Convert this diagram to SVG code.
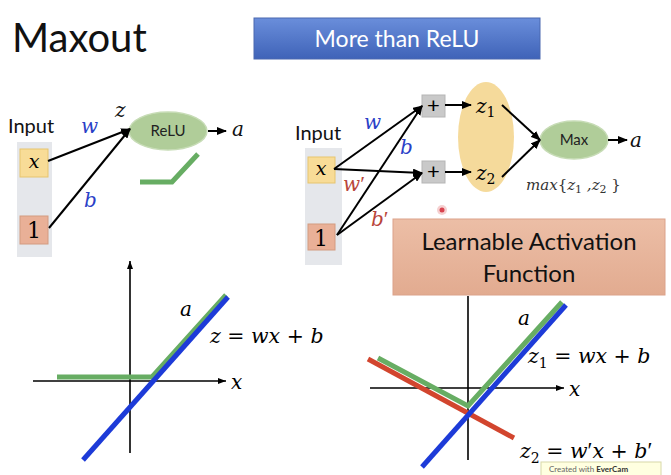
<svg xmlns="http://www.w3.org/2000/svg" width="671" height="475" viewBox="0 0 671 475">
<defs>
<linearGradient id="gBlue" x1="0" y1="0" x2="0" y2="1"><stop offset="0" stop-color="#6a8edb"/><stop offset="1" stop-color="#3f63b8"/></linearGradient>
<linearGradient id="gSalmon" x1="0" y1="0" x2="0" y2="1"><stop offset="0" stop-color="#ecbea6"/><stop offset="1" stop-color="#e2ab90"/></linearGradient>
<marker id="ah" markerUnits="userSpaceOnUse" markerWidth="10" markerHeight="8" refX="9" refY="4" orient="auto"><path d="M0,0 L10,4 L0,8 Z" fill="#000"/></marker>
<marker id="axh" markerUnits="userSpaceOnUse" markerWidth="8" markerHeight="6" refX="8" refY="3" orient="auto"><path d="M0,0 L8,3 L0,6 Z" fill="#000"/></marker>
</defs>
<style>
.sans{font-family:Lato,"Open Sans","Liberation Sans",sans-serif;}
.m{font-family:"DejaVu Serif","Liberation Serif",serif;font-style:italic;}
.mr{font-family:"DejaVu Serif","Liberation Serif",serif;font-style:normal;}
.pr{font-family:"Liberation Serif",serif;font-style:normal;font-size:1.1em;}
.conn{stroke:#000;stroke-width:2;fill:none;marker-end:url(#ah);}
.axis{stroke:#000;stroke-width:1.6;fill:none;}
.col{fill:#e5e7eb;}
.bx{fill:#f8dc97;stroke:#e7c56f;stroke-width:1;}
.b1{fill:#e9b097;stroke:#d39b80;stroke-width:1;}
.plus{fill:#c9c9c9;stroke:#b5b5b5;stroke-width:1;}
.gell{fill:#b0cd99;stroke:#c7dcb6;stroke-width:1.5;}
.green{stroke:#67ad63;stroke-width:5;fill:none;}
.blue{stroke:#1d3bd8;stroke-width:5;fill:none;}
.red{stroke:#d2452e;stroke-width:5;fill:none;}
</style>
<rect width="671" height="475" fill="#fff"/>

<g id="title"><text class="sans" x="12" y="52" font-size="40" fill="#111">Maxout</text></g>
<g id="more-than-relu">
<rect x="254" y="18" width="286" height="41" fill="url(#gBlue)" stroke="#4a68b0" stroke-width="1"/>
<text class="sans" x="397" y="47" font-size="23" fill="#fff" text-anchor="middle">More than ReLU</text>
</g>

<!-- Left network -->
<g id="left-input">
<text class="sans" x="8" y="133" font-size="20" fill="#111">Input</text>
<rect class="col" x="17" y="142" width="35" height="115"/>
<rect class="bx" x="20" y="149" width="28" height="28"/>
<text class="m" x="34" y="168" font-size="19" text-anchor="middle">x</text>
<rect class="b1" x="20" y="216" width="28" height="28"/>
<text class="mr" x="34" y="238" font-size="22" text-anchor="middle">1</text>
</g>
<g id="left-relu">
<ellipse class="gell" cx="168" cy="131" rx="39" ry="19"/>
<text class="sans" x="168" y="136" font-size="15" text-anchor="middle" fill="#222">ReLU</text>
</g>
<g id="left-relu-shape"><polyline class="green" points="140,182 172,182 198,154"/></g>
<g id="left-labels">
<text class="m" x="81" y="133" font-size="20" fill="#2a3fc7">w</text>
<text class="m" x="84" y="207" font-size="20" fill="#2a3fc7">b</text>
<text class="m" x="115" y="117" font-size="20" fill="#111">z</text>
<text class="m" x="232" y="136" font-size="20" fill="#111">a</text>
</g>

<!-- Right network -->
<g id="right-input">
<text class="sans" x="295" y="140" font-size="20" fill="#111">Input</text>
<rect class="col" x="305" y="148" width="37" height="117"/>
<rect class="bx" x="308" y="157" width="27" height="26"/>
<text class="m" x="321" y="175" font-size="19" text-anchor="middle">x</text>
<rect class="b1" x="308" y="224" width="27" height="26"/>
<text class="mr" x="321" y="246" font-size="22" text-anchor="middle">1</text>
</g>
<g id="plus1"><rect class="plus" x="422" y="95" width="23" height="22"/><text class="sans" x="433.5" y="113" font-size="22" text-anchor="middle">+</text></g>
<g id="plus2"><rect class="plus" x="422" y="161" width="23" height="22"/><text class="sans" x="433.5" y="179" font-size="22" text-anchor="middle">+</text></g>
<g id="z-group">
<ellipse cx="486" cy="137" rx="28" ry="55" fill="#f3d38a" fill-opacity="0.85"/>
<text class="m" x="476" y="113" font-size="20">z<tspan class="mr" font-size="14" dy="4">1</tspan></text>
<text class="m" x="476" y="180" font-size="20">z<tspan class="mr" font-size="14" dy="4">2</tspan></text>
</g>
<g id="max">
<ellipse class="gell" cx="574" cy="140" rx="34" ry="19"/>
<text class="sans" x="574" y="145" font-size="15" text-anchor="middle" fill="#222">Max</text>
</g>
<g id="right-labels">
<text class="m" x="364" y="129" font-size="20" fill="#2a3fc7">w</text>
<text class="m" x="400" y="154" font-size="20" fill="#2a3fc7">b</text>
<text class="m" x="343" y="191" font-size="20" fill="#b9453a">w<tspan class="pr">′</tspan></text>
<text class="m" x="371" y="226" font-size="20" fill="#b9453a">b<tspan class="pr">′</tspan></text>
<text class="m" x="630" y="147" font-size="20" fill="#111">a</text>
<text class="m" x="526" y="190" font-size="15" fill="#333">max<tspan class="mr">{</tspan>z<tspan class="mr" font-size="11" dy="3">1</tspan><tspan dy="-3"> ,</tspan>z<tspan class="mr" font-size="11" dy="3">2</tspan><tspan class="mr" dy="-3"> }</tspan></text>
</g>
<g id="pointer"><circle cx="442" cy="210" r="5" fill="#f5d0d0"/><circle cx="442" cy="210" r="2.5" fill="#d9434e"/></g>

<g id="connectors">
<line class="conn" x1="48" y1="161" x2="130" y2="129"/>
<line class="conn" x1="49" y1="228" x2="130" y2="129"/>
<line class="conn" x1="208" y1="131" x2="226" y2="131"/>
<line class="conn" x1="334" y1="169" x2="422" y2="106"/>
<line class="conn" x1="334" y1="169" x2="422" y2="173"/>
<line class="conn" x1="337" y1="235" x2="422" y2="106"/>
<line class="conn" x1="337" y1="235" x2="422" y2="173"/>
<line class="conn" x1="445" y1="105" x2="471" y2="105"/>
<line class="conn" x1="445" y1="172" x2="471" y2="172"/>
<line class="conn" x1="502" y1="105" x2="540" y2="140"/>
<line class="conn" x1="502" y1="177" x2="540" y2="140"/>
<line class="conn" x1="608" y1="140" x2="627" y2="140"/>
</g>

<g id="learnable">
<rect x="393" y="219" width="272" height="76" fill="url(#gSalmon)" stroke="#dba28a" stroke-width="1"/>
<text class="sans" x="529" y="250" font-size="24" text-anchor="middle" fill="#111">Learnable Activation</text>
<text class="sans" x="529" y="282" font-size="24" text-anchor="middle" fill="#111">Function</text>
</g>

<!-- Bottom-left graph -->
<g id="graph-left">
<line class="axis" x1="130" y1="453" x2="130" y2="261" marker-end="url(#axh)"/>
<line class="axis" x1="33" y1="381" x2="226" y2="381" marker-end="url(#axh)"/>
<polyline class="green" points="57,377 152,377 226,295"/>
<line class="blue" x1="83" y1="460" x2="228" y2="297"/>
<text class="m" x="231" y="389" font-size="20">x</text>
<text class="m" x="180" y="316" font-size="20">a</text>
<text class="m" x="210" y="343" font-size="20.5">z <tspan class="mr">=</tspan> wx <tspan class="mr">+</tspan> b</text>
</g>

<!-- Bottom-right graph -->
<g id="graph-right">
<line class="axis" x1="468" y1="460" x2="468" y2="296"/>
<line class="axis" x1="370" y1="388" x2="564" y2="388" marker-end="url(#axh)"/>
<line class="red" x1="368" y1="359" x2="514" y2="438"/>
<polyline class="green" points="378,358 468,406 562,302"/>
<line class="blue" x1="422" y1="467" x2="566" y2="305"/>
<text class="m" x="569" y="396" font-size="20">x</text>
<text class="m" x="518" y="325" font-size="20">a</text>
<text class="m" x="528" y="363" font-size="20.5">z<tspan class="mr" font-size="14" dy="5">1</tspan><tspan dy="-5"> </tspan><tspan class="mr">=</tspan> wx <tspan class="mr">+</tspan> b</text>
<text class="m" x="520" y="458" font-size="20.5">z<tspan class="mr" font-size="14" dy="5">2</tspan><tspan dy="-5"> </tspan><tspan class="mr">=</tspan> w<tspan class="pr">′</tspan>x <tspan class="mr">+</tspan> b<tspan class="pr">′</tspan></text>
</g>

<g id="watermark">
<rect x="541" y="462" width="120" height="14" fill="#ffffe0" stroke="#d8d8a8" stroke-width="1"/>
<text class="sans" x="549" y="472" font-size="8" fill="#666">Created with <tspan font-weight="bold" fill="#333">EverCam</tspan></text>
</g>
</svg>
